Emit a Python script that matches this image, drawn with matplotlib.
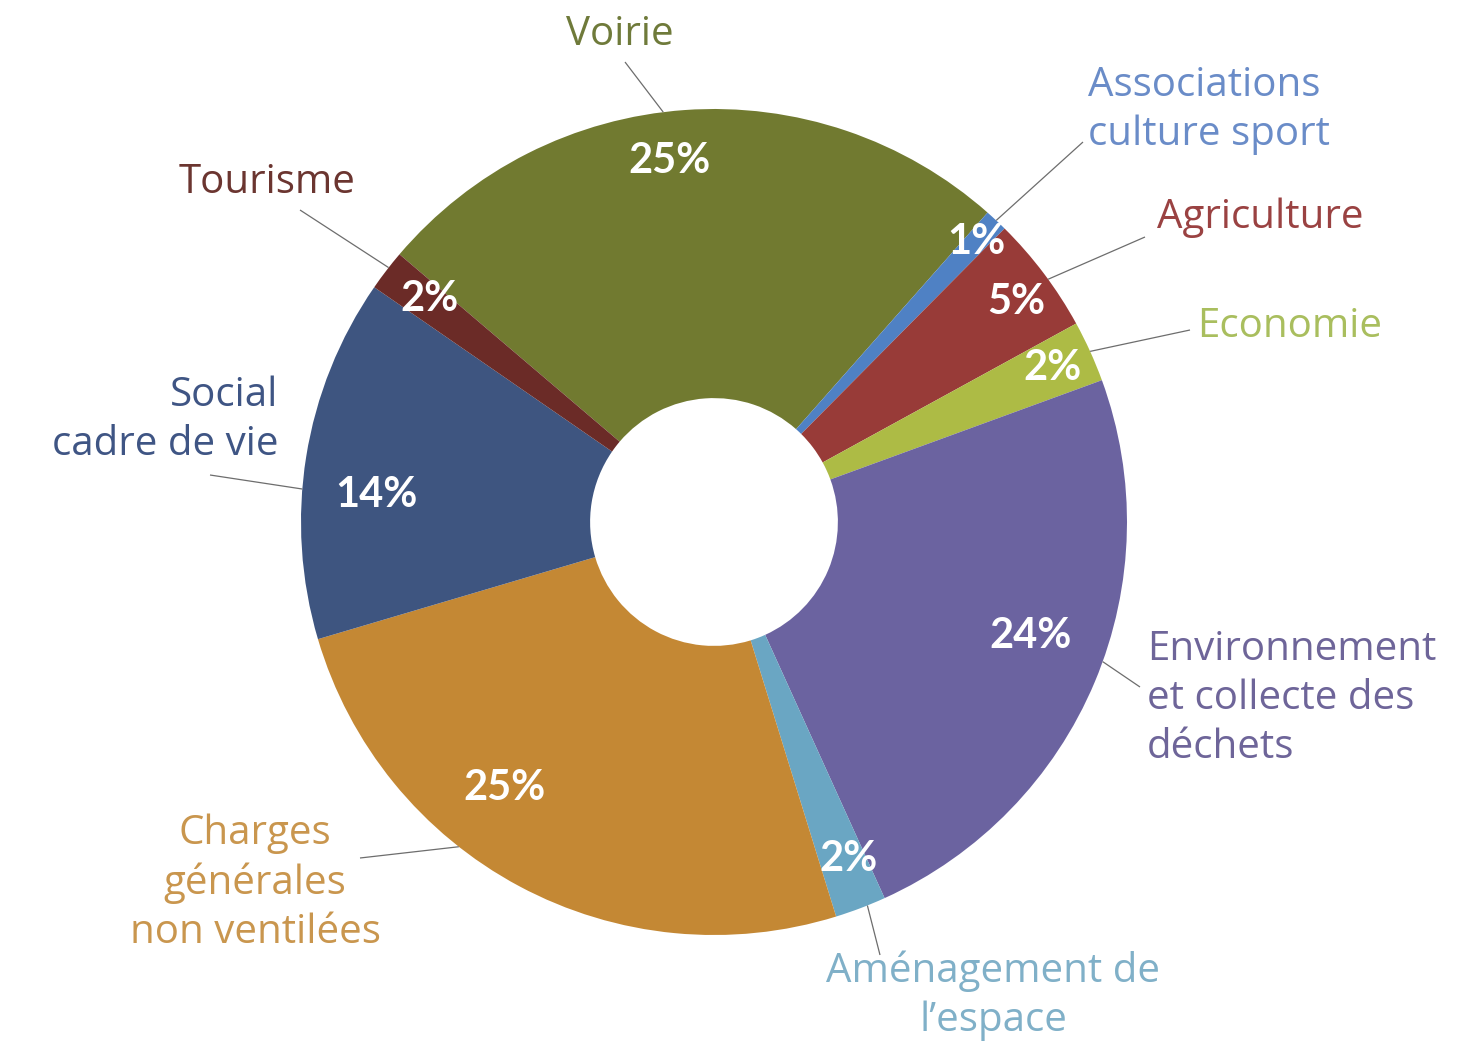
import numpy as np
import matplotlib.pyplot as plt

# budget split, clockwise from the top-left (Voirie first)
categories = ["Voirie", "Associations\nculture sport", "Agriculture", "Economie",
              "Environnement\net collecte des\ndéchets", "Aménagement de\nl’espace",
              "Charges\ngénérales\nnon ventilées", "Social\ncadre de vie", "Tourisme"]
shares = [25.3, 0.9, 4.6, 2.4, 23.8, 2.0, 25.2, 14.2, 1.6]

colors = ["#717a30", "#4f81c4", "#983b38", "#adbb45", "#6b63a0",
          "#6aa6c3", "#c48834", "#3e5580", "#6b2b27"]
text_colors = ["#6f7a3a", "#6a8cc8", "#9a4242", "#a9be5e", "#6e6599",
               "#80b0c8", "#c9964e", "#3f5584", "#6b3530"]

# layout (pixels in the 1463x1045 image), centre of the ring and radius
CX, CY, R = 714, 522, 413
W, H = 1463, 1045

def px(x, y):
    return (x - CX) / R, (CY - y) / R

pct_radius = [0.88, 0.93, 0.905, 0.90, 0.815, 0.88, 0.82, 0.82, 0.875]
pct_dangle = [3, 0, -1, 0, 3, 1, -10, 4.5, -0.5]
leader_end = [(625, 62), (1083, 142), (1145, 237), (1190, 330), (1140, 687),
              (880, 955), (360, 858), (210, 475), (300, 210)]
label_pos = [(620, 35), (1088, 110), (1157, 218), (1197, 327), (1147, 699),
             (993, 996), (255, 883), (278, 420), (267, 183)]
label_ha = ["center", "left", "left", "left", "left",
            "center", "center", "right", "center"]

plt.rcParams["font.family"] = ["Open Sans", "DejaVu Sans"]

fig = plt.figure(figsize=(W / 100, H / 100), dpi=100)
ax = fig.add_axes([0, 0, 1, 1])

wedges, _ = ax.pie(shares, colors=colors, startangle=139.6, counterclock=False,
                   radius=1.0, wedgeprops=dict(width=0.70, linewidth=0))

ax.set_xlim(-CX / R, (W - CX) / R)
ax.set_ylim(-(H - CY) / R, CY / R)
ax.set_aspect("auto")
ax.axis("off")

for i, w in enumerate(wedges):
    ang = np.deg2rad((w.theta1 + w.theta2) / 2 + pct_dangle[i])
    r = pct_radius[i]
    ax.text(r * np.cos(ang), r * np.sin(ang), f"{shares[i]:.0f}%",
            color="white", fontsize=30, fontweight="bold",
            family=["Lato", "DejaVu Sans"], ha="center", va="center")

    # leader line from the ring edge to the category name
    x0, y0 = np.cos(ang), np.sin(ang)
    x1, y1 = px(*leader_end[i])
    ax.plot([x0, x1], [y0, y1], color="#6d6d6d", lw=0.9, solid_capstyle="butt")

    tx, ty = px(*label_pos[i])
    ax.text(tx, ty, categories[i], color=text_colors[i], fontsize=29,
            ha=label_ha[i], va="center", linespacing=1.28,
            multialignment=label_ha[i])

fig.savefig("out.png", dpi=100)
